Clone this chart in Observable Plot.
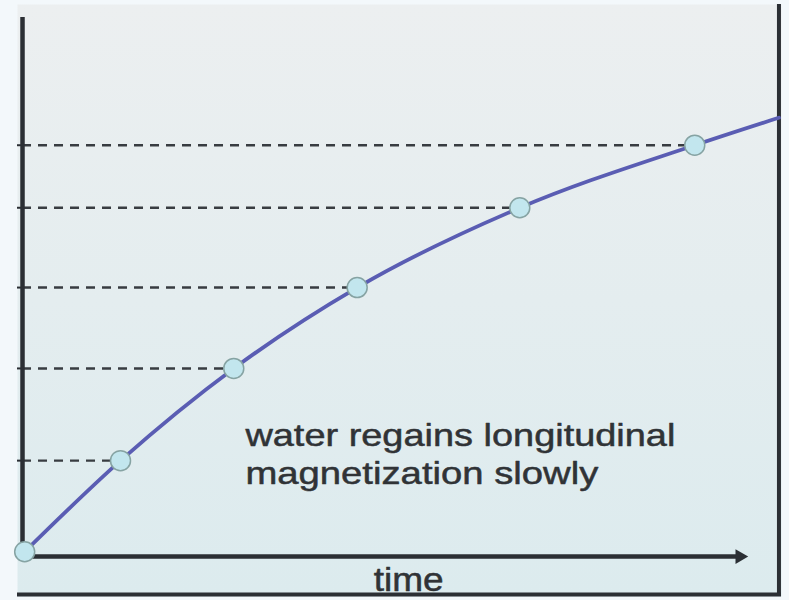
<!DOCTYPE html>
<html>
<head>
<meta charset="utf-8">
<script src="https://cdn.jsdelivr.net/npm/d3@7"></script>
<script src="https://cdn.jsdelivr.net/npm/@observablehq/plot@0.6"></script>
<style>
  html, body { margin: 0; padding: 0; background: #f3f8fb; overflow: hidden; }
  #chart svg { display: block; }
</style>
</head>
<body>
<div id="chart"></div>
<script>
// ---- data (arbitrary units) ----
const times = [0.03, 1.35, 2.91, 4.61, 6.85, 9.26];          // marker times
const magnetization = [0.009, 0.178, 0.349, 0.499, 0.647, 0.763]; // marker values
const curveEndTime = 10.42;
const curveEndValue = 0.814;
const axisEndTime = 10;      // tip of the time arrow
const annotationLines = ["water regains longitudinal", "magnetization slowly"];
const xLabel = "time";

// ---- derived tables ----
const points = times.map((t, i) => ({t, m: magnetization[i]}));
const curve = [...points, {t: curveEndTime, m: curveEndValue}];
const levels = points.slice(1);

const xDomain = [-0.069, 10.455];
const yDomain = [-0.074, 1.024];
const ink = "#2b2f34";
const textInk = "#303336";

const plot = Plot.plot({
  width: 789,
  height: 600,
  marginLeft: 17,
  marginRight: 8,
  marginTop: 4,
  marginBottom: 4,
  x: {domain: xDomain, axis: null},
  y: {domain: yDomain, axis: null},
  style: {background: "transparent", fontFamily: "'Liberation Sans', Arial, sans-serif"},
  marks: [
    Plot.frame({fill: "url(#panelGrad)", stroke: "none"}),
    // dashed guide lines from the axis to each marker
    Plot.ruleY(levels, {y: "m", x1: 0, x2: "t", stroke: "#383c41", strokeWidth: 2.4, strokeDasharray: "9,7"}),
    // small ticks on the left of the vertical axis
    Plot.ruleY(levels, {y: "m", x1: xDomain[0], x2: 0, stroke: ink, strokeWidth: 2}),
    // vertical axis
    Plot.ruleX([0], {y1: 0, y2: 1, stroke: ink, strokeWidth: 4.5}),
    // horizontal time axis with arrow head
    Plot.ruleY([0], {x1: 0, x2: axisEndTime - 0.15, stroke: ink, strokeWidth: 4.5}),
    Plot.dot([{t: axisEndTime - 0.12, m: 0}], {x: "t", y: "m", symbol: "triangle2", rotate: 90, r: 7, fill: ink, stroke: "none"}),
    // photo frame edges (right and bottom)
    Plot.ruleX([curveEndTime], {stroke: ink, strokeWidth: 4}),
    Plot.ruleY([-0.0705], {stroke: ink, strokeWidth: 4}),
    // recovery curve
    Plot.line(curve, {x: "t", y: "m", curve: "monotone-x", stroke: "#5a5db3", strokeWidth: 3.8}),
    Plot.dot(points, {x: "t", y: "m", r: 10, fill: "#c2e6ee", stroke: "#86a3a3", strokeWidth: 1.5}),
    // annotation
    Plot.text([annotationLines[0]], {x: 3.07, y: 0.135, dy: -38, text: d => d, textAnchor: "start", lineAnchor: "bottom", fontSize: 32, fill: textInk, stroke: textInk, strokeWidth: 0.5}),
    Plot.text([annotationLines[1]], {x: 3.07, y: 0.135, text: d => d, textAnchor: "start", lineAnchor: "bottom", fontSize: 32, fill: textInk, stroke: textInk, strokeWidth: 0.5}),
    Plot.text([xLabel], {x: 5.32, y: -0.063, text: d => d, textAnchor: "middle", lineAnchor: "bottom", fontSize: 33, fill: textInk, stroke: textInk, strokeWidth: 0.5})
  ]
});

// gradient for the panel fill
const svg = d3.select(plot);
const defs = svg.insert("defs", ":first-child");
const grad = defs.append("linearGradient").attr("id", "panelGrad")
  .attr("x1", 0).attr("y1", 0).attr("x2", 0).attr("y2", 1);
grad.append("stop").attr("offset", "0%").attr("stop-color", "#eceff0");
grad.append("stop").attr("offset", "100%").attr("stop-color", "#dcebee");

// the photographed lettering is horizontally stretched
const stretch = new Map([[annotationLines[0], 430], [annotationLines[1], 353], [xLabel, 70]]);
svg.selectAll("text").each(function () {
  const w = stretch.get(this.textContent);
  if (w) {
    this.setAttribute("textLength", w);
    this.setAttribute("lengthAdjust", "spacingAndGlyphs");
  }
});

document.getElementById("chart").appendChild(plot);
</script>
</body>
</html>
